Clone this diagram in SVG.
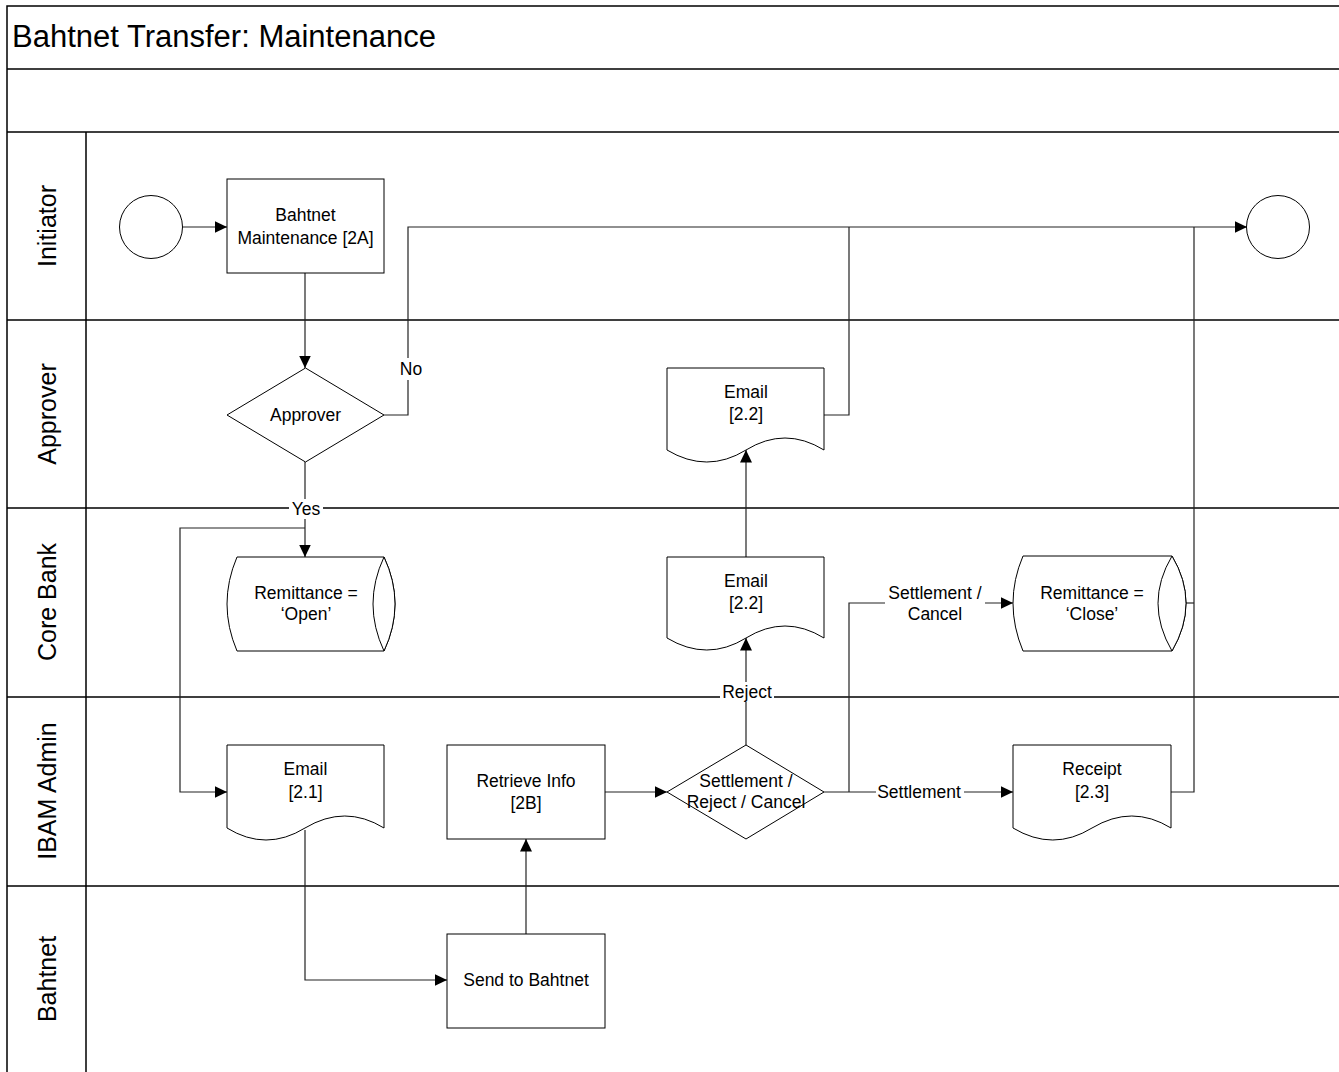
<svg xmlns="http://www.w3.org/2000/svg" width="1339" height="1072" viewBox="0 0 1339 1072">
<style>
text{font-family:"Liberation Sans",Arial,sans-serif;fill:#000}
.t{font-size:17.5px;text-anchor:middle}
.lane{font-size:25px;text-anchor:middle}
.shape{fill:#fff;stroke:#000;stroke-width:1}
.frame{fill:none;stroke:#000;stroke-width:1.5}
.conn{fill:none;stroke:#222;stroke-width:1.2}
.lbl{fill:#fff;stroke:none}
</style>
<defs>
<marker id="arr" markerUnits="userSpaceOnUse" markerWidth="14" markerHeight="12" refX="12.5" refY="6" orient="auto">
<path d="M0,0 L12.5,6 L0,12 Z" fill="#000"/>
</marker>
</defs>
<rect width="1339" height="1072" fill="#fff"/>
<g id="pool">
<path class="frame" d="M7,1072 V6 H1339 M7,69 H1339 M7,132 H1339 M7,320 H1339 M7,508 H1339 M7,697 H1339 M7,886 H1339 M86,132 V1072"/>
<text x="12" y="47" style="font-size:31px">Bahtnet Transfer: Maintenance</text>
<text class="lane" transform="translate(56,226) rotate(-90)">Initiator</text>
<text class="lane" transform="translate(56,414) rotate(-90)">Approver</text>
<text class="lane" transform="translate(56,602) rotate(-90)">Core Bank</text>
<text class="lane" transform="translate(56,791) rotate(-90)">IBAM Admin</text>
<text class="lane" transform="translate(56,979) rotate(-90)">Bahtnet</text>
</g>
<g id="connectors">
<path class="conn" d="M183,227 H227" marker-end="url(#arr)"/>
<path class="conn" d="M305,273 V368" marker-end="url(#arr)"/>
<path class="conn" d="M384,415 H408 V227 H1247" marker-end="url(#arr)"/>
<path class="conn" d="M824,415 H849 V227"/>
<path class="conn" d="M305,462 V557" marker-end="url(#arr)"/>
<path class="conn" d="M305,528 H180 V792 H227" marker-end="url(#arr)"/>
<path class="conn" d="M746,557 V450" marker-end="url(#arr)"/>
<path class="conn" d="M746,745 V638" marker-end="url(#arr)"/>
<path class="conn" d="M305,830 V980 H447" marker-end="url(#arr)"/>
<path class="conn" d="M526,934 V839" marker-end="url(#arr)"/>
<path class="conn" d="M605,792 H667" marker-end="url(#arr)"/>
<path class="conn" d="M824,792 H1013" marker-end="url(#arr)"/>
<path class="conn" d="M849,792 V603 H1013" marker-end="url(#arr)"/>
<path class="conn" d="M1186,603 H1194"/>
<path class="conn" d="M1171,792 H1194 V227"/>
<rect class="lbl" x="397" y="358" width="26" height="22"/>
<text class="t" x="411" y="375">No</text>
<rect class="lbl" x="289" y="499" width="34" height="20"/>
<text class="t" x="306" y="515">Yes</text>
<rect class="lbl" x="720" y="682" width="54" height="20"/>
<text class="t" x="747" y="698">Reject</text>
<rect class="lbl" x="885" y="583" width="100" height="42"/>
<text class="t" x="935" y="599">Settlement /</text>
<text class="t" x="935" y="620">Cancel</text>
<rect class="lbl" x="876" y="782" width="88" height="20"/>
<text class="t" x="919" y="798">Settlement</text>
</g>
<g id="start">
<circle class="shape" cx="151" cy="227" r="31.5"/>
</g>
<g id="end">
<circle class="shape" cx="1278" cy="227" r="31.5"/>
</g>
<g id="bahtnet-maintenance">
<rect class="shape" x="227" y="179" width="157" height="94"/>
<text class="t" x="305.5" y="221">Bahtnet</text>
<text class="t" x="305.5" y="244">Maintenance [2A]</text>
</g>
<g id="approver-decision">
<path class="shape" d="M305.5,368 L384,415 L305.5,462 L227,415 Z"/>
<text class="t" x="305.5" y="421">Approver</text>
</g>
<g id="remittance-open">
<path class="shape" d="M237,557 H384 Q406,604 384,651 H237 Q217,604 237,557 Z"/>
<path class="shape" d="M384,557 Q362,604 384,651 Q406,604 384,557 Z"/>
<text class="t" x="306" y="599">Remittance =</text>
<text class="t" x="306" y="620">‘Open’</text>
</g>
<g id="email-22-approver">
<path class="shape" d="M667,368 H824 V450 Q785,426 746,450 Q707,474 667,450 Z"/>
<text class="t" x="746" y="398">Email</text>
<text class="t" x="746" y="420">[2.2]</text>
</g>
<g id="email-22-core">
<path class="shape" d="M667,557 H824 V638 Q785,614 746,638 Q707,662 667,638 Z"/>
<text class="t" x="746" y="587">Email</text>
<text class="t" x="746" y="609">[2.2]</text>
</g>
<g id="remittance-close">
<path class="shape" d="M1023,556 H1172 Q1200,603 1172,651 H1023 Q1003,603 1023,556 Z"/>
<path class="shape" d="M1172,556 Q1144,603 1172,651 Q1200,603 1172,556 Z"/>
<text class="t" x="1092" y="599">Remittance =</text>
<text class="t" x="1092" y="620">‘Close’</text>
</g>
<g id="email-21">
<path class="shape" d="M227,745 H384 V828 Q345,804 305,828 Q266,852 227,828 Z"/>
<text class="t" x="305.5" y="775">Email</text>
<text class="t" x="305.5" y="798">[2.1]</text>
</g>
<g id="retrieve-info">
<rect class="shape" x="447" y="745" width="158" height="94"/>
<text class="t" x="526" y="787">Retrieve Info</text>
<text class="t" x="526" y="809">[2B]</text>
</g>
<g id="decision-settlement">
<path class="shape" d="M746,745 L824,792 L746,839 L667,792 Z"/>
<text class="t" x="746" y="787">Settlement /</text>
<text class="t" x="746" y="808">Reject / Cancel</text>
</g>
<g id="receipt">
<path class="shape" d="M1013,745 H1171 V828 Q1132,804 1092,828 Q1053,852 1013,828 Z"/>
<text class="t" x="1092" y="775">Receipt</text>
<text class="t" x="1092" y="798">[2.3]</text>
</g>
<g id="send-to-bahtnet">
<rect class="shape" x="447" y="934" width="158" height="94"/>
<text class="t" x="526" y="986">Send to Bahtnet</text>
</g>
</svg>
